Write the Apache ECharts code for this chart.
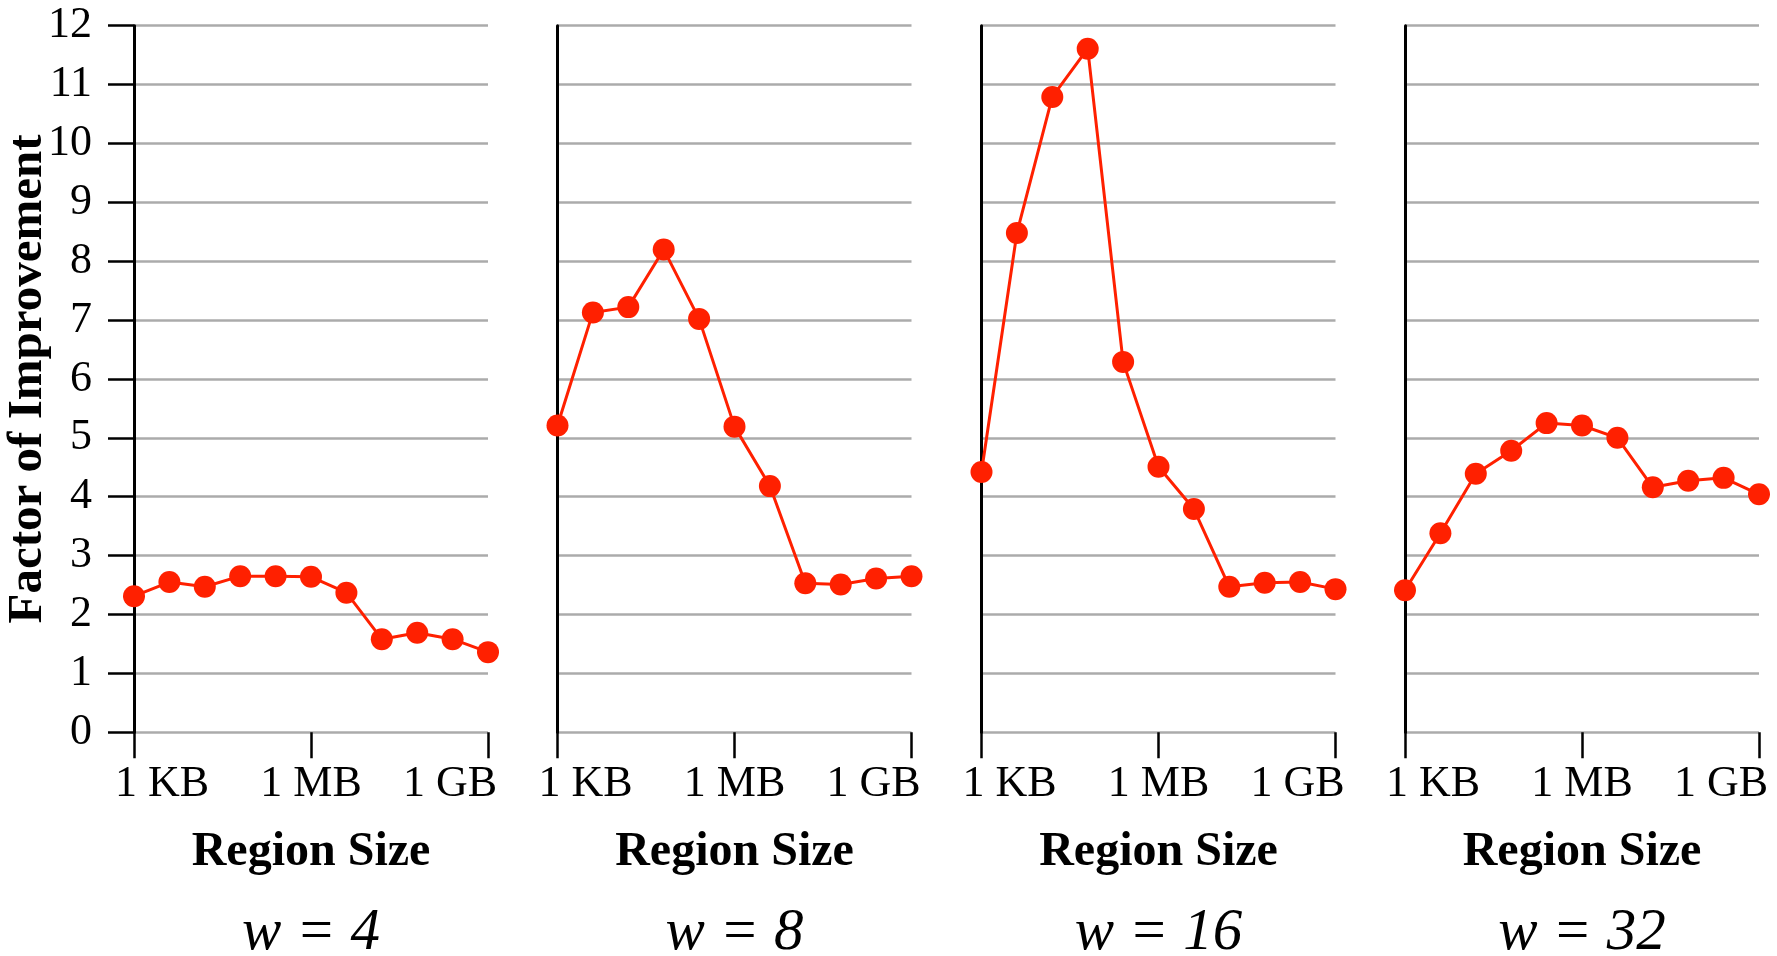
<!DOCTYPE html>
<html>
<head>
<meta charset="utf-8">
<script src="https://cdn.jsdelivr.net/npm/echarts@6/dist/echarts.min.js"></script>
<style>
html, body { margin: 0; padding: 0; background: #fff; }
#chart { width: 1777px; height: 956px; }
</style>
</head>
<body>
<div id="chart"></div>
<script>
// Region sizes (x categories, powers of 4 from 1 KB to 1 GB)
const categories = ['1 KB', '4 KB', '16 KB', '64 KB', '256 KB', '1 MB', '4 MB', '16 MB', '64 MB', '256 MB', '1 GB'];
const xTickLabels = ['1 KB', '1 MB', '1 GB'];
const yTickLabels = ['0', '1', '2', '3', '4', '5', '6', '7', '8', '9', '10', '11', '12'];
const panelNames = ['w = 4', 'w = 8', 'w = 16', 'w = 32'];

// Factor of improvement per panel
const w4 = [2.31, 2.55, 2.47, 2.65, 2.65, 2.64, 2.37, 1.58, 1.69, 1.58, 1.36];
const w8 = [5.21, 7.13, 7.22, 8.20, 7.02, 5.19, 4.18, 2.53, 2.51, 2.61, 2.65];
const w16 = [4.42, 8.48, 10.79, 11.61, 6.29, 4.51, 3.79, 2.47, 2.54, 2.55, 2.43];
const w32 = [2.41, 3.38, 4.39, 4.78, 5.25, 5.21, 5.00, 4.16, 4.27, 4.32, 4.04];

const seriesData = [w4, w8, w16, w32];

const FONT = '"Liberation Serif", "Times New Roman", serif';
const RED = '#ff2000';
const panelLefts = [134, 557.5, 981.5, 1405];
const panelWidth = 354;

const grids = [], xAxes = [], yAxes = [], series = [];
panelLefts.forEach((left, i) => {
  grids.push({ left: left, width: panelWidth, top: 25.7, height: 706.5, containLabel: false, outerBoundsMode: 'none' });
  xAxes.push({
    type: 'category',
    gridIndex: i,
    data: categories,
    boundaryGap: false,
    axisLine: { show: false },
    axisTick: { show: true, interval: 4, length: 26, lineStyle: { color: '#000', width: 2.5 } },
    axisLabel: {
      show: true,
      interval: 4,
      margin: 30,
      color: '#000',
      fontFamily: FONT,
      fontSize: 44,
      formatter: function (val, idx) {
        const k = Math.round(idx / 5);
        const lab = xTickLabels[k];
        if (k === 0) return '{l|' + lab + '}';
        if (k === 2) return '{r|' + lab + '}';
        return '{c|' + lab + '}';
      },
      rich: {
        l: { fontFamily: FONT, fontSize: 44, color: '#000', padding: [0, 0, 0, 56] },
        c: { fontFamily: FONT, fontSize: 44, color: '#000' },
        r: { fontFamily: FONT, fontSize: 44, color: '#000', padding: [0, 76, 0, 0] }
      }
    },
    splitLine: { show: false },
    name: '{a|Region Size}\n{b|' + panelNames[i] + '}',
    nameLocation: 'middle',
    nameGap: 80,
    nameMoveOverlap: false,
    nameTextStyle: {
      rich: {
        a: { fontFamily: FONT, fontWeight: 'bold', fontSize: 48, lineHeight: 81, color: '#000' },
        b: { fontFamily: FONT, fontStyle: 'italic', fontSize: 59, lineHeight: 81, color: '#000' }
      }
    }
  });
  yAxes.push({
    type: 'value',
    gridIndex: i,
    min: 0,
    max: 12,
    interval: 1,
    axisLine: { show: true, lineStyle: { color: '#000', width: 3 } },
    axisTick: { show: i === 0, length: 26, lineStyle: { color: '#000', width: 2.5 } },
    axisLabel: {
      show: i === 0,
      margin: 42,
      color: '#000',
      fontFamily: FONT,
      fontSize: 44,
      formatter: function (v) { return yTickLabels[Math.round(v)]; }
    },
    splitLine: { show: true, lineStyle: { color: '#ababab', width: 2.5 } },
    name: i === 0 ? 'Factor of Improvement' : '',
    nameLocation: 'middle',
    nameGap: 81,
    nameRotate: 90,
    nameMoveOverlap: false,
    nameTextStyle: { fontFamily: FONT, fontWeight: 'bold', fontSize: 49, color: '#000' }
  });
  series.push({
    type: 'line',
    xAxisIndex: i,
    yAxisIndex: i,
    data: seriesData[i],
    symbol: 'circle',
    symbolSize: 22,
    showSymbol: true,
    showAllSymbol: true,
    clip: false,
    lineStyle: { color: RED, width: 3 },
    itemStyle: { color: RED },
    animation: false,
    z: 5
  });
});

const chart = echarts.init(document.getElementById('chart'), null, { renderer: 'canvas' });
chart.setOption({
  backgroundColor: '#fff',
  animation: false,
  grid: grids,
  xAxis: xAxes,
  yAxis: yAxes,
  series: series
});
</script>
</body>
</html>
